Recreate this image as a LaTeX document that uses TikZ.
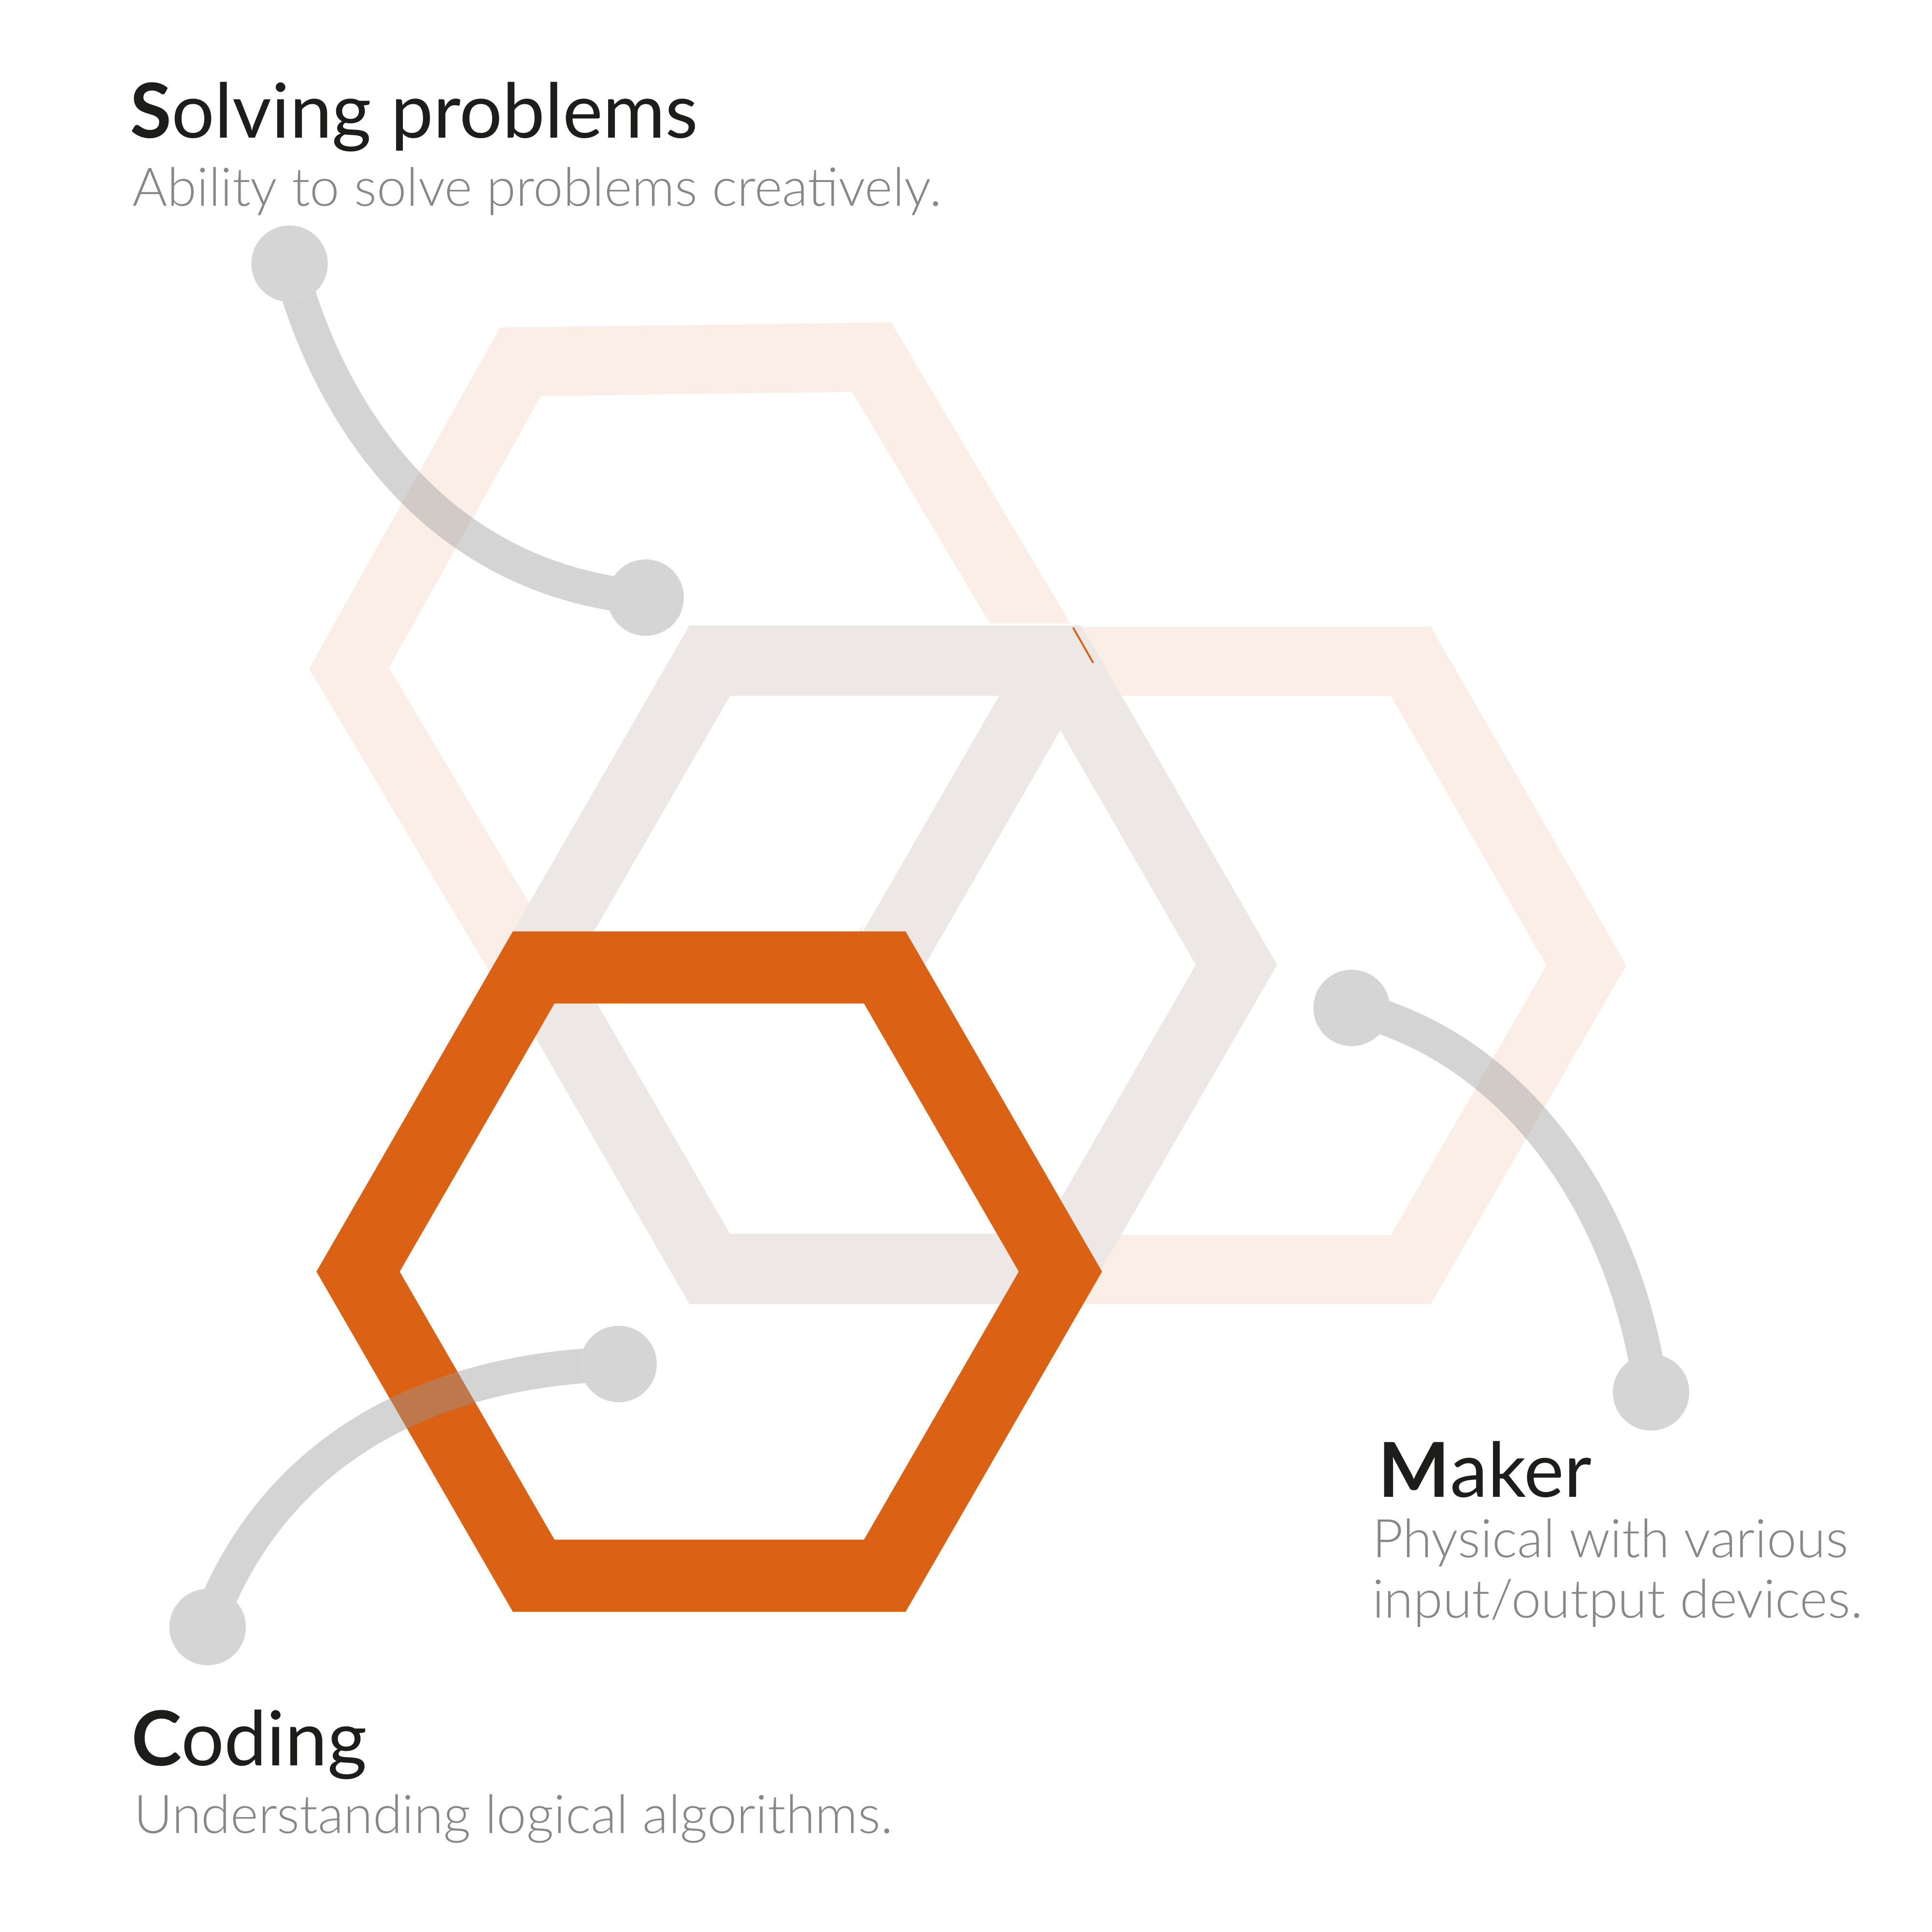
\documentclass[tikz,border=0pt]{standalone}
\usepackage{fontspec}
\setmainfont{Lato}
\newfontfamily\lightfont{Lato Light}

\definecolor{hexorange}{HTML}{DB6114}
\definecolor{hexpeach}{HTML}{FBEEE6}
\definecolor{hexgray}{HTML}{EDE8E5}
\definecolor{linkgray}{HTML}{9A9A9A}
\definecolor{dotgray}{HTML}{D5D5D5}
\definecolor{headdark}{HTML}{1D1D1B}
\definecolor{subgray}{HTML}{878787}

\begin{document}
\begin{tikzpicture}
[x=0.1mm, y=-0.1mm,
  hexring/.style={line width=5.7mm, line join=miter},
  link/.style={linkgray, opacity=0.42, line width=2.8mm},
  dot/.style={fill=dotgray},
  heading/.style={anchor=base west, inner sep=0pt, text=headdark,
    font=\fontsize{17.5}{20}\selectfont},
  subtext/.style={anchor=base west, inner sep=0pt, text=subgray,
    font=\fontsize{12.3}{14}\lightfont}]
  \fill[white] (0,0) rectangle (1568,1568);
  \useasboundingbox (0,0) rectangle (1568,1568);

  \coordinate (hexS) at (568.2,538.5);
  \coordinate (hexM) at (1002.5,783.5);
  \coordinate (hexG) at (718.5,783);
  \coordinate (hexC) at (575.6,1032);

  % hexagons
  \begin{scope}
    \clip (0,0) -- (1568,0) -- (1568,506) -- (700,506) -- (700,1568) -- (0,1568) -- cycle;
    \draw[hexring, line width=5.6mm, hexpeach, shift={(hexS)}, rotate=0.76]
      (0:285) \foreach \a in {60,120,...,300} {-- (\a:285)} -- cycle;
  \end{scope}
  \draw[hexring, line width=5.6mm, hexpeach, shift={(hexM)}]
    (0:285) \foreach \a in {60,120,...,300} {-- (\a:285)} -- cycle;
  \draw[hexring, hexgray, shift={(hexG)}]
    (0:285) \foreach \a in {60,120,...,300} {-- (\a:285)} -- cycle;
  \draw[hexring, hexgray, shift={(hexM)}] (240:285) -- (180:285);
  \coordinate (slivA) at (870.9,509.3);
  \coordinate (slivB) at (887.2,537.9);
  \draw[hexorange, line width=0.15mm] (slivA) -- (slivB);
  \draw[hexring, line width=5.85mm, hexorange, shift={(hexC)}]
    (0:285) \foreach \a in {60,120,...,300} {-- (\a:285)} -- cycle;

  % connectors
  \coordinate (solvingA) at (235,214);
  \coordinate (solvingB) at (524,485);
  \coordinate (makerA) at (1097,818);
  \coordinate (makerB) at (1340,1130);
  \coordinate (codingA) at (502,1107);
  \coordinate (codingB) at (168.5,1320.5);
  \draw[link] (solvingA) .. controls +(30,116) and +(-174,-15) .. (solvingB);
  \draw[link] (makerA) .. controls +(133,32) and +(-20,-150) .. (makerB);
  \draw[link] (codingA) .. controls +(-172,5) and +(47,-130) .. (codingB);
  \foreach \p in {solvingA,solvingB,makerA,makerB,codingA,codingB}
    \fill[dot] (\p) circle[radius=31];

  % labels
  \node[heading] (solving) at (105,112) {{\bfseries S}olving problems};
  \node[subtext] (solvingsub) at (107,167) {Ability to solve problems creatively.};
  \node[heading] (maker) at (1118,1215) {{\bfseries M}aker};
  \node[subtext] (makersub) at (1113,1264) {Physical with various};
  \node[subtext] (makersubb) at (1113,1313) {input/output devices.};
  \node[heading] (coding) at (106,1433) {{\bfseries C}oding};
  \node[subtext] (codingsub) at (108,1488) {Understanding logical algorithms.};
\end{tikzpicture}
\end{document}
